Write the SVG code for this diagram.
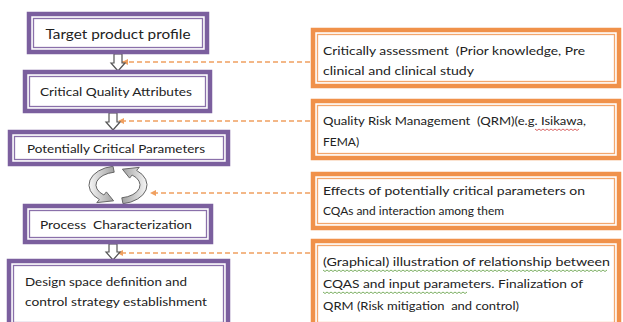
<svg xmlns="http://www.w3.org/2000/svg" width="623" height="322" viewBox="0 0 623 322">
<defs>
<style>
.po{fill:#fff;stroke:#7b5f9e;stroke-width:4.5}
.pi{fill:none;stroke:#8a70aa;stroke-width:1.3}
.oo{fill:#fff;stroke:#f0914a;stroke-width:4.5}
.oi{fill:none;stroke:#f3a66c;stroke-width:1.3}
.t{font-family:Lato,"Liberation Sans",sans-serif;fill:#222}
.dash{fill:none;stroke:#f0a060;stroke-width:1.3;stroke-dasharray:5 3}
.blk{fill:#fff;stroke:#555;stroke-width:1.2}
.sq{fill:none;stroke-width:0.8}
.cyc{stroke:#666;stroke-width:1}
</style>
<marker id="ah" markerWidth="8" markerHeight="8" refX="7" refY="4" orient="auto" markerUnits="userSpaceOnUse">
<path d="M1,1 L7,4 L1,7 Z" fill="#f0a060"/>
</marker>
<linearGradient id="g1" x1="0" y1="0" x2="1" y2="0">
<stop offset="0" stop-color="#f6f6f6"/><stop offset="1" stop-color="#a0a0a0"/>
</linearGradient>
</defs>

<g id="connectors">
<line class="dash" x1="310" y1="62" x2="122" y2="62" marker-end="url(#ah)"/>
<line class="dash" x1="310" y1="121" x2="118" y2="121" marker-end="url(#ah)"/>
<line class="dash" x1="310" y1="193" x2="150" y2="193" marker-end="url(#ah)"/>
<line class="dash" x1="310" y1="253" x2="117" y2="253" marker-end="url(#ah)"/>
<path id="down1" class="blk" d="M114,54 V63 H111 L118,71 L125,63 H122 V54 Z"/>
<path id="down2" class="blk" d="M109,113 V122 H106 L113,130 L120,122 H117 V113 Z"/>
<path id="down3" class="blk" d="M109,244 V252 H106 L113,260 L120,252 H117 V244 Z"/>
<g id="cycle">
<path class="cyc" fill="url(#g1)" d="M113,166.3 A29,19 0 0 0 99.4,199.6 L96.8,202.6 L113.6,200.8 L106.4,191.9 L103.9,195 A22,13 0 0 1 114.2,172.2 Z"/>
<path class="cyc" fill="url(#g1)" transform="rotate(180 118 185)" d="M113,166.3 A29,19 0 0 0 99.4,199.6 L96.8,202.6 L113.6,200.8 L106.4,191.9 L103.9,195 A22,13 0 0 1 114.2,172.2 Z"/>
</g>
</g>

<g id="n1">
<rect class="po" x="29" y="14" width="178" height="38"/>
<rect class="pi" x="33.5" y="18.5" width="169" height="29"/>
<text class="t" x="118" y="39" font-size="14" text-anchor="middle" textLength="145" lengthAdjust="spacingAndGlyphs">Target product profile</text>
</g>
<g id="n2">
<rect class="po" x="25" y="72" width="185" height="39"/>
<rect class="pi" x="29.5" y="76.5" width="176" height="30"/>
<text class="t" x="116" y="96" font-size="12" text-anchor="middle" textLength="152" lengthAdjust="spacingAndGlyphs">Critical Quality Attributes</text>
</g>
<g id="n3">
<rect class="po" x="10" y="132" width="218" height="32"/>
<rect class="pi" x="14.5" y="136.5" width="209" height="23"/>
<text class="t" x="27" y="153" font-size="12" textLength="178" lengthAdjust="spacingAndGlyphs">Potentially Critical Parameters</text>
</g>
<g id="n4">
<rect class="po" x="25" y="206" width="186" height="36"/>
<rect class="pi" x="29.5" y="210.5" width="177" height="27"/>
<text class="t" x="40" y="229" font-size="12" textLength="152" lengthAdjust="spacingAndGlyphs" xml:space="preserve">Process  Characterization</text>
</g>
<g id="n5">
<rect class="po" x="9" y="261" width="219" height="66"/>
<rect class="pi" x="13.5" y="265.5" width="210" height="57"/>
<text class="t" x="25" y="286" font-size="12" textLength="162" lengthAdjust="spacingAndGlyphs">Design space definition and</text>
<text class="t" x="25" y="306" font-size="12" textLength="182" lengthAdjust="spacingAndGlyphs">control strategy establishment</text>
</g>

<g id="r1">
<rect class="oo" x="313" y="30" width="306" height="56"/>
<rect class="oi" x="317.5" y="34.5" width="297" height="47"/>
<text class="t" x="323" y="55" font-size="12" textLength="262" lengthAdjust="spacingAndGlyphs" xml:space="preserve">Critically assessment  (Prior knowledge, Pre</text>
<text class="t" x="323" y="75" font-size="12" textLength="151" lengthAdjust="spacingAndGlyphs">clinical and clinical study</text>
</g>
<g id="r2">
<rect class="oo" x="313" y="101" width="306" height="57"/>
<rect class="oi" x="317.5" y="105.5" width="297" height="48"/>
<text class="t" x="323" y="125" font-size="12" textLength="263" lengthAdjust="spacingAndGlyphs" xml:space="preserve">Quality Risk Management  (QRM)(e.g. Isikawa,</text>
<text class="t" x="323" y="146" font-size="12">FEMA)</text>
<path class="sq" stroke="#d04040" d="M535,129 l2,1.5 l2,-1.5 l2,1.5 l2,-1.5 l2,1.5 l2,-1.5 l2,1.5 l2,-1.5 l2,1.5 l2,-1.5 l2,1.5 l2,-1.5 l2,1.5 l2,-1.5 l2,1.5 l2,-1.5 l2,1.5 l2,-1.5 l2,1.5 l2,-1.5 l2,1.5 l2,-1.5"/>
</g>
<g id="r3">
<rect class="oo" x="313" y="174" width="306" height="54"/>
<rect class="oi" x="317.5" y="178.5" width="297" height="45"/>
<text class="t" x="323" y="195" font-size="12" textLength="262" lengthAdjust="spacingAndGlyphs">Effects of potentially critical parameters on</text>
<text class="t" x="323" y="215" font-size="12" textLength="181" lengthAdjust="spacingAndGlyphs">CQAs and interaction among them</text>
</g>
<g id="r4">
<rect class="oo" x="313" y="241" width="306" height="86"/>
<rect class="oi" x="317.5" y="245.5" width="297" height="77"/>
<text class="t" x="323" y="266" font-size="12" textLength="287" lengthAdjust="spacingAndGlyphs">(Graphical) illustration of relationship between</text>
<text class="t" x="323" y="288" font-size="12" textLength="260" lengthAdjust="spacingAndGlyphs">CQAS and input parameters. Finalization of</text>
<text class="t" x="323" y="310" font-size="12" textLength="196" lengthAdjust="spacingAndGlyphs" xml:space="preserve">QRM (Risk mitigation  and control)</text>
<path class="sq" stroke="#5a9a3a" d="M323,270 l2,1.5 l2,-1.5 l2,1.5 l2,-1.5 l2,1.5 l2,-1.5 l2,1.5 l2,-1.5 l2,1.5 l2,-1.5 l2,1.5 l2,-1.5 l2,1.5 l2,-1.5 l2,1.5 l2,-1.5 l2,1.5 l2,-1.5 l2,1.5 l2,-1.5 l2,1.5 l2,-1.5 l2,1.5 l2,-1.5 l2,1.5 l2,-1.5 l2,1.5 l2,-1.5 l2,1.5 l2,-1.5 l2,1.5 l2,-1.5 l2,1.5 l2,-1.5 l2,1.5 l2,-1.5 l2,1.5 l2,-1.5 l2,1.5 l2,-1.5 l2,1.5 l2,-1.5 l2,1.5 l2,-1.5 l2,1.5 l2,-1.5 l2,1.5 l2,-1.5 l2,1.5 l2,-1.5 l2,1.5 l2,-1.5 l2,1.5 l2,-1.5 l2,1.5 l2,-1.5 l2,1.5 l2,-1.5 l2,1.5 l2,-1.5 l2,1.5 l2,-1.5 l2,1.5 l2,-1.5 l2,1.5 l2,-1.5 l2,1.5 l2,-1.5 l2,1.5 l2,-1.5 l2,1.5 l2,-1.5 l2,1.5 l2,-1.5 l2,1.5 l2,-1.5 l2,1.5 l2,-1.5 l2,1.5 l2,-1.5 l2,1.5 l2,-1.5 l2,1.5 l2,-1.5 l2,1.5 l2,-1.5 l2,1.5 l2,-1.5 l2,1.5 l2,-1.5 l2,1.5 l2,-1.5 l2,1.5 l2,-1.5 l2,1.5 l2,-1.5 l2,1.5 l2,-1.5 l2,1.5 l2,-1.5 l2,1.5 l2,-1.5 l2,1.5 l2,-1.5 l2,1.5 l2,-1.5 l2,1.5 l2,-1.5 l2,1.5 l2,-1.5 l2,1.5 l2,-1.5 l2,1.5 l2,-1.5 l2,1.5 l2,-1.5 l2,1.5 l2,-1.5 l2,1.5 l2,-1.5 l2,1.5 l2,-1.5 l2,1.5 l2,-1.5 l2,1.5 l2,-1.5 l2,1.5 l2,-1.5 l2,1.5 l2,-1.5 l2,1.5 l2,-1.5 l2,1.5 l2,-1.5 l2,1.5 l2,-1.5 l2,1.5 l2,-1.5 l2,1.5 l2,-1.5 l2,1.5 l2,-1.5"/>
<path class="sq" stroke="#5a9a3a" d="M323,292 l2,1.5 l2,-1.5 l2,1.5 l2,-1.5 l2,1.5 l2,-1.5 l2,1.5 l2,-1.5 l2,1.5 l2,-1.5 l2,1.5 l2,-1.5 l2,1.5 l2,-1.5 l2,1.5 l2,-1.5 l2,1.5 l2,-1.5 l2,1.5 l2,-1.5 l2,1.5 l2,-1.5 l2,1.5 l2,-1.5 l2,1.5 l2,-1.5 l2,1.5 l2,-1.5 l2,1.5 l2,-1.5 l2,1.5 l2,-1.5 l2,1.5 l2,-1.5 l2,1.5 l2,-1.5 l2,1.5 l2,-1.5 l2,1.5 l2,-1.5 l2,1.5 l2,-1.5 l2,1.5 l2,-1.5 l2,1.5 l2,-1.5 l2,1.5 l2,-1.5 l2,1.5 l2,-1.5 l2,1.5 l2,-1.5 l2,1.5 l2,-1.5 l2,1.5 l2,-1.5 l2,1.5 l2,-1.5 l2,1.5 l2,-1.5 l2,1.5 l2,-1.5 l2,1.5 l2,-1.5 l2,1.5 l2,-1.5 l2,1.5 l2,-1.5 l2,1.5 l2,-1.5 l2,1.5 l2,-1.5"/>
</g>
</svg>
